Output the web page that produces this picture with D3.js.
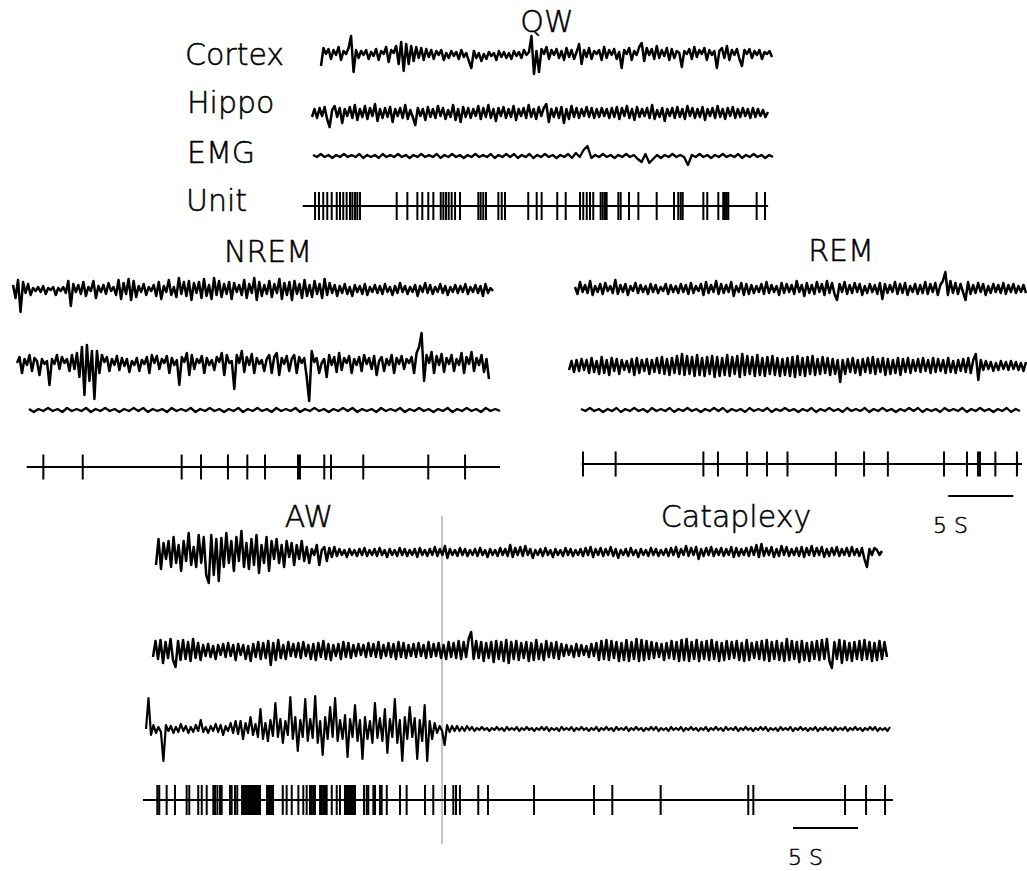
<!DOCTYPE html>
<html>
<head>
<meta charset="utf-8">
<script src="https://cdn.jsdelivr.net/npm/d3@7/dist/d3.min.js"></script>
<style>
  body { margin: 0; background: #fff; }
  .label { font-family: "DejaVu Sans", sans-serif; font-weight: 200; fill: #000; stroke: #000; stroke-width: 0.5; }
  .trace { fill: none; stroke: #000; stroke-linejoin: round; }
</style>
</head>
<body>
<div class="svg-container"></div>
<script>

// ---- data: traces (arbitrary units, + is up), spike times (s) ----
var qwCortex = [-10, 8, 2, 7, -3, 6, 1, 9, -4, 5, 2, 8, 20, -16, 6, -2, 5, 1, 6, -3,
  4, 0, 7, -4, 5, 2, 9, -6, 6, 3, 10, -8, 14, -15, 12, -8, 10, -5, 9, -2,
  8, -4, 7, -1, 6, -3, 5, 1, 6, -4, 3, -2, 5, 0, 4, -3, 6, -1, 3, -5,
  -12, 5, -2, 3, -5, 2, -3, 4, 0, 3, -4, 5, -1, 4, -2, 3, -3, 5, 0, 4,
  -2, 6, 1, 4, 20, -18, 5, -16, 7, 2, 9, -3, 6, 1, 7, -2, 5, -4, 8, -1,
  6, -3, 4, 12, -8, 6, -1, 8, -3, 5, 2, 6, -4, 9, -2, 6, 1, 7, -3, 4,
  -12, 6, 2, 8, -4, 5, 1, 9, 13, -5, 8, 1, 7, -3, 10, -2, 6, 0, 8, -4,
  7, -2, 5, 3, -11, 5, 2, 7, -3, 9, -1, 6, 2, 8, -4, 6, 1, 5, -12, 5,
  8, -2, 10, -4, 6, 1, 7, -3, -10, 6, 2, 7, -2, 5, 1, 6, -3, 4, 2, 5, -1];
var qwHippo = [-3, 5, -4, 6, -2, 7, -5, -13, 4, 8, -3, 6, -9, 5, -2, 7, -4, 9, -6, 5,
  -3, 8, -5, 6, -2, 10, -7, 5, -4, 6, -3, 7, -8, 5, -2, 6, -4, 9, -5, 4,
  -3, -11, 6, -2, 5, -6, 7, -3, 5, -4, 8, -2, 6, -5, 4, -3, 9, -6, 5, -8,
  7, -3, 6, -4, 5, -2, 8, -5, 6, -3, 9, -4, 5, -7, 6, -2, 7, -4, 5, -3,
  8, -6, 5, -2, 6, -4, 9, -3, 5, -5, 7, -2, 6, 10, -8, 5, -3, 6, -4, 7,
  -9, 5, -5, 8, -3, 6, -4, 5, -2, 7, -3, 6, -4, 5, -3, 6, -2, 5, -4, 6,
  -3, 7, -5, 6, -2, 8, -4, 5, -6, 7, -3, 5, -2, 6, -4, 9, -5, 4, -3, 6,
  -7, 5, -2, 6, -4, 7, -3, 5, -5, 8, -2, 6, -4, 5, -3, 7, -6, 5, -2, 6,
  -4, 8, -3, 5, -5, 6, -2, 7, -4, 5, -3, 6, -2, 5, -4, 6, -3, 5, -2, 4, -3, 2];
var qwEmg = [1, -1, 2, -1, 1, -2, 1, -1, 2, -1, 1, -1, 2, -2, 1, -1, 1, -2, 2, -1,
  1, -1, 2, -1, 1, -2, 1, -1, 2, -1, 1, -1, 2, -2, 1, -1, 2, -1, 1, -2,
  1, -1, 2, -1, 1, -1, 2, -2, 1, -1, 2, -1, 2, -2, 1, -1, 2, -2, 1, -1,
  2, -1, 1, -2, 1, -1, 2, -2, 3, -1, 6, 10, -2, 1, -1, 2, -1, 1, -2, 1,
  -1, 2, -1, 1, -3, -6, 2, -7, -3, 1, -2, 1, -1, 2, -1, 1, -1, -9, 1, -1,
  2, -1, 1, -2, 1, -1, 2, -1, 1, -1, 2, -2, 1, -1, 2, -1, 1, -2, 1, -1];
var qwSpikes = [0.95, 1.25, 1.58, 1.89, 2.23, 2.62, 2.87, 3.12, 3.38, 3.64, 3.82, 4.02, 4.2, 4.41,
  7.23, 8.05, 8.82, 9.2, 9.66, 10.05, 10.62, 10.82, 11.02, 11.23, 11.46, 11.72, 12.1,
  13.51, 13.69, 13.89, 14.1, 15.05, 15.31, 15.56, 17.35, 18.0, 18.38, 19.58, 20.23,
  21.33, 21.58, 21.85, 22.1, 22.35, 22.92, 23.08, 23.25, 23.38, 24.28, 24.46, 25.1, 25.82,
  27.23, 28.56, 28.89, 29.08, 29.23, 30.82, 31.12, 31.97, 32.35, 32.48, 32.62, 32.74, 34.92, 35.56];

var nremCortex = [5, -8, 10, -22, 8, -3, 6, -5, 2, -1, 3, -2, 4, -4, 2, 0, 3, -5, 2, -1,
  3, -3, 9, -16, 6, -2, 5, -4, 8, -6, 3, -1, 9, -8, 4, -2, 5, -4, 7, -1,
  3, -5, 10, -9, 7, -4, 11, -10, 9, -7, 4, -2, 6, -5, 3, -1, 5, -6, 8, -9,
  4, -2, 10, -5, 3, -7, 12, -4, 8, -6, 9, -10, 7, -3, 8, -8, 11, -6, 5, -9,
  12, -5, 9, -7, 6, -4, 8, -9, 7, -2, 5, -5, 10, -8, 6, -3, 12, -10, 8, -6,
  5, -4, 9, -7, 6, -3, 11, -9, 7, -5, 8, -10, 9, -4, 6, -8, 10, -6, 5, -7,
  9, -4, 6, -8, 11, -5, 7, -3, 5, -6, 4, -3, 6, -4, 3, -6, 5, -2, 4, -4,
  6, -5, 3, -2, 5, -3, 4, -4, 6, -2, 3, -5, 4, -3, 7, -2, 4, -4, 3, -2,
  5, -6, 4, -2, 7, -3, 5, -4, 3, -2, 6, -3, 4, -5, 3, -2, 5, -3, 4, -2,
  6, -4, 3, -2, 5, -3, 4, -6, 6, -3, 2, -1];
var nremHippo = [4, 10, -6, 8, 2, 12, -4, 9, 6, -8, 8, 3, 6, -18, 8, 3, 12, -2, 10, 4,
  8, -4, 12, -2, 14, -10, 20, -28, 22, -14, 16, -32, 16, -6, 12, 5, 10, -4, 8, 2,
  11, -3, 9, 1, 8, -5, 6, 2, 9, -4, 7, 3, 10, -6, 12, 4, 11, -2, 8, 4,
  11, -6, 9, 2, 7, -18, 10, 5, 14, -8, 12, -2, 8, 4, 11, -6, 9, 2, 7, -3,
  10, 5, 14, -8, 12, 4, 6, -22, 12, 4, 16, -5, 10, 2, 13, -6, 9, 3, 7, -4,
  8, 12, -6, 10, 14, -8, 9, 3, 11, -4, 8, 12, -6, 10, 4, 9, -10, -34, 16, 5,
  9, -6, 4, 8, -10, 12, 2, 10, -5, 14, -3, 9, 4, 11, -6, 8, 2, 10, -4, 12,
  3, 9, -2, 11, -8, 6, 10, -4, 8, 2, 12, -6, 9, 3, 11, -2, 8, 4, 10, -6,
  14, 20, 34, -14, 12, 4, 15, -6, 11, 2, 13, -5, 9, 3, 12, -4, 8, 2, 14, -6,
  10, 3, 15, -4, 9, 2, 12, -5, 8, -12];
var nremEmg = [1, -2, 1, -1, 2, -1, 1, -2, 2, -1, 1, -1, 2, -2, 1, -1, 2, -1, 1, -2,
  1, -1, 2, -1, 2, -2, 1, -1, 1, -2, 2, -1, 1, -1, 2, -2, 1, -1, 2, -1,
  1, -2, 1, -1, 2, -2, 1, -1, 2, -1, 1, -2, 2, -1, 1, -1, 2, -2, 1, -1,
  2, -1, 1, -2, 1, -1, 2, -1, 2, -2, 1, -1, 1, -2, 2, -1, 1, -1, 2, -2,
  1, -1, 2, -1, 1, -2, 1, -1, 2, -2, 1, -1, 2, -1, 1, -2, 2, -1, 1, -1];
var nremSpikes = [1.28, 4.31, 11.92, 13.41, 15.48, 16.97, 18.33, 20.87, 21.02, 22.89, 23.41, 25.89, 30.89, 33.72];

var remCortex = [3, -4, 8, -2, 5, -3, 9, -5, 4, -2, 6, -4, 7, -1, 4, -3, 10, -4, 5, -2,
  6, -5, 4, -1, 7, -3, 5, -2, 4, -4, 6, -2, 5, -3, 3, -1, 6, -4, 5, -2,
  4, -3, 6, -2, 5, -4, 7, -3, 4, -1, 6, -5, 8, -3, 5, -2, 9, -4, 6, -3,
  5, -2, 8, -6, 4, -2, 7, -5, 6, -4, 5, -3, 4, -2, 6, -4, 8, -3, 5, -2,
  4, -5, 7, -3, 6, -2, 5, -4, 9, -2, 5, -6, 7, -3, 5, -4, 8, -2, 6, -5,
  9, -3, 7, -4, -10, 6, -2, 8, -4, 5, -3, 7, -2, 6, -5, 4, -3, 6, -2, 5,
  -4, 7, -9, 6, -3, 5, -2, 8, -4, 6, -3, 7, -5, 4, -2, 6, -4, 5, -3, 8,
  -4, 6, -2, 7, -5, 5, 9, 18, -5, 9, -3, 7, -4, 6, -2, -10, 8, -4, 5, -3,
  7, -2, 6, -5, 4, -3, 6, -2, 5, -3, 7, -4, 5, -2, 6, -3, 4, -2, 5, -3];
var remHippo = [-4, 5, -6, 6, -5, 7, -4, 6, -7, 8, -6, 5, -8, 9, -7, 6, -9, 8, -5, 7,
  -8, 6, -4, 5, -6, 7, -9, 8, -7, 6, -5, 7, -8, 6, -6, 8, -7, 9, -8, 7,
  -9, 8, -7, 10, -8, 12, -9, 10, -8, 9, -10, 11, -9, 8, -10, 9, -8, 10, -11, 9,
  -10, 8, -9, 11, -10, 9, -8, 10, -11, 12, -9, 10, -8, 9, -10, 11, -9, 8, -10, 9,
  -8, 10, -9, 8, -10, 7, -9, 8, -10, 9, -11, 10, -9, 8, -10, 9, -8, 10, -9, 7,
  -8, 9, -7, 8, -9, 7, -8, 6, -16, 6, -8, 7, -6, 8, -7, 6, -9, 7, -6, 8,
  -7, 9, -8, 7, -6, 8, -9, 7, -8, 6, -7, 8, -9, 7, -6, 8, -7, 6, -5, 7,
  -6, 8, -5, 6, -7, 8, -6, 7, -5, 6, -7, 8, -6, 5, -7, 6, -5, 7, -6, 8,
  -7, 6, 12, -14, 6, -4, 5, -3, 4, -5, 3, -4, 5, -3, 4, -4, 5, -3, 4, -4, 3, -5, 4];
var remEmg = [1, -1, 2, -1, 1, -2, 1, -1, 2, -2, 1, -1, 2, -1, 1, -2, 2, -1, 1, -1,
  2, -2, 1, -1, 2, -1, 1, -2, 1, -1, 2, -1, 2, -2, 1, -1, 1, -2, 2, -1,
  1, -1, 2, -2, 1, -1, 2, -1, 1, -2, 1, -1, 2, -2, 1, -1, 2, -1, 1, -2,
  2, -1, 1, -1, 2, -2, 1, -1, 2, -1, 1, -2, 1, -1, 2, -1, 2, -2, 1, -1,
  1, -2, 2, -1, 1, -1, 2, -2, 1, -1, 2, -1, 1, -2, 1, -1, 2, -2, 1, -1];
var remSpikes = [0.1, 2.61, 9.36, 10.48, 12.72, 14.25, 15.83, 19.55, 21.72, 23.55, 27.87, 29.64, 30.48, 30.64, 31.82, 33.48];

var awCortex = [-12, 14, -16, 10, -6, 12, -14, 16, -10, 8, -18, 12, -8, 20, -12, 6, -14, 18, -10, 16,
  -22, -30, 18, -22, 14, -28, 15, -14, 20, -10, 12, -18, 16, -8, 22, -14, 10, -16, 14, -12,
  18, -20, 8, -10, 16, -18, 12, -6, 14, -10, 8, -14, 12, -4, 10, -12, 8, -6, 12, -8,
  6, -10, 4, -2, 8, -12, 3, 6, -8, 5, -4, 6,
  -3, 4, -2, 3, -4, 4, -2, 3, -3, 4, -2, 5, -3, 3, -2, 4, -3, 5, -2, 3,
  -4, 4, -2, 3, -3, 5, -2, 4, -3, 3, -2, 4, -4, 5, -2, 3, -3, 4, -2, 6,
  -3, 4, -2, 7, -5, 4, -2, 3, -3, 5, -2, 4, -3, 3, -2, 4, -3, 5, -2, 3,
  -4, 4, -2, 3, -3, 5, -2, 4, -3, 8, -4, 5, -2, 6, -3, 7, -2, 4, -5, 3,
  -2, 4, -3, 5, -2, 3, -4, 4, -2, 3, -3, 5, -2, 4, -3, 3, -2, 4, -3, 5,
  -2, 6, -4, 4, -2, 5, -3, 4, -2, 6, -3, 4, -5, 3, -2, 4, -3, 5, -2, 3,
  -4, 4, -2, 3, -3, 5, -2, 4, -3, 3, -2, 4, -3, 5, -2, 6, -4, 4, -2, 7,
  -3, 5, -2, 6, -6, 4, -3, 5, -2, 6, -3, 4, -2, 5, -3, 4, -2, 6, -4, 5,
  -3, 4, -2, 5, -3, 6, -2, 8, -4, 9, -3, 5, -2, 6, -4, 4, -3, 7, -2, 6,
  -3, 4, -2, 5, -3, 6, -4, 5, -2, 7, -3, 5, -2, 6, -4, 4, -3, 5, -2, 6,
  -3, 4, -2, 5, -3, 6, -2, 4, -3, 5, -6, -14, 4, -2, 5, 3, -2, 2];
var awHippo = [-6, 10, -8, 11, -12, 9, -7, 12, -9, -16, 10, -9, 11, -8, 9, -10, 12, -7, 8, -9,
  6, -5, 7, -6, 5, -8, 6, -4, 7, -6, 8, -5, 6, -9, 7, -4, 6, -8, 5, -10,
  7, -6, 9, -8, 8, -7, 10, -14, 8, -9, 11, -7, 6, -8, 9, -5, 7, -6, 8, -7,
  9, -5, 6, -8, 7, -9, 8, -6, 10, -8, 7, -9, 6, -5, 7, -8, 9, -6, 8, -7,
  6, -5, 7, -4, 6, -6, 8, -5, 7, -6, 9, -7, 6, -5, 8, -6, 7, -8, 9, -6,
  8, -7, 6, -5, 7, -6, 8, -5, 6, -7, 9, -6, 7, -5, 8, -7, 6, -8, 9, -6,
  8, -7, 10, -8, 9, -6, 12, 19, -8, 10, -7, 9, -10, 8, -7, 9, -11, 10, -8, 9,
  -10, 11, -12, 9, -8, 10, -9, 8, -7, 9, -10, 8, -9, 11, -8, 7, -9, 10, -6, 8,
  -7, 9, -8, 7, -5, 6, -4, 5, -6, 7, -5, 6, -4, 5, -6, 7, -5, 8, -9, 10,
  -8, 11, -9, 10, -7, 9, -10, 8, -9, 11, -10, 9, -8, 12, -10, 11, -9, 10, -8, 9,
  -7, 8, -6, 7, -9, 8, -7, 10, -8, 9, -10, 11, -9, 12, -10, 9, -8, 11, -10, 9,
  -8, 10, -9, 11, -8, 9, -10, 8, -9, 10, -8, 9, -7, 10, -9, 8, -10, 11, -9, 8,
  -7, 9, -8, 10, -9, 11, -10, 9, -8, 10, -9, 8, -10, 12, -9, 10, -8, 9, -11, 10,
  -9, 8, -10, 9, -8, 10, -9, 11, -8, 12, -10, -17, 9, -8, 11, -12, 10, -9, 8, -10,
  9, -8, 10, -9, 11, -8, 9, -10, 8, -9, 10, -8, 9, -6];
var awEmg = [0, 31, -6, 4, -4, 2, -3, -32, 4, -2, 3, -4, 2, -3, 5, -2, 3, -4, 2, -3,
  4, -2, 9, -3, 2, -4, 3, -2, 5, -3, 4, -6, 3, -2, 6, -4, 8, -5,
  8, -10, 6, -4, 12, -6, 5, -8, 20, -10, 6, -12, 9, -7, 26, -8, 10, -14, 8, -6,
  32, -10, 12, -22, 9, -8, 30, -12, 10, -9, 33, -14, 8, -26, 12, -10, 22, -8, 31, -12,
  9, -10, 14, -28, 10, -8, 24, -12, 9, -30, 12, -10, 8, -14, 26, -9, 11, -12, 20, -24,
  10, -8, 30, -14, 9, -32, 12, -10, 22, -8, 11, -30, 9, -12, 24, -32, 8, -10,
  6, -4, 3, -2, -16,
  4, -3, 3, -2, 3, -2, 2, -2, 3, -1, 2, -2, 1, -1, 2, -1, 1, -2, 1, -1,
  2, -1, 1, -2, 2, -1, 1, -1, 2, -2, 1, -1, 2, -1, 1, -2, 1, -1, 2, -1,
  2, -2, 1, -1, 1, -2, 2, -1, 1, -1, 2, -2, 1, -1, 2, -1, 1, -2, 1, -1,
  2, -2, 1, -1, 2, -1, 1, -2, 2, -1, 1, -1, 2, -2, 1, -1, 2, -1, 1, -2,
  1, -1, 2, -1, 2, -2, 1, -1, 1, -2, 2, -1, 1, -1, 2, -2, 1, -1, 2, -1,
  1, -2, 1, -1, 2, -2, 1, -1, 2, -1, 1, -2, 2, -1, 1, -1, 2, -2, 1, -1,
  2, -1, 1, -2, 1, -1, 2, -1, 2, -2, 1, -1, 1, -2, 2, -1, 1, -1, 2, -2,
  1, -1, 2, -1, 1, -2, 1, -1, 2, -2, 1, -1, 2, -1, 1, -2, 2, -1, 1, -1,
  2, -2, 1, -1, 2, -1, 1, -2, 1, -1, 2, -1, 2, -2, 1, -1, 1, -2, 2];
var awSpikes = [1.1, 1.25, 1.82, 2.46, 3.36, 3.56, 4.25, 4.52, 4.9, 5.41, 5.54, 5.72, 5.92, 6.05,
  6.69, 6.82, 7.08, 7.25,
  7.62, 7.73, 7.85, 7.96, 8.08, 8.19, 8.31, 8.42, 8.54, 8.65, 8.77, 8.88, 9.0,
  9.54, 9.65, 9.77, 9.88, 10.0,
  10.75, 11.05, 11.44, 11.95, 12.33, 12.59, 12.85, 12.98, 13.1, 13.23, 13.62, 13.75, 13.87,
  14.0, 14.13, 14.52, 14.9, 15.15,
  15.54, 15.65, 15.77, 15.88, 16.0, 16.12, 16.23, 16.31,
  17.0, 17.21, 17.33, 17.72, 17.85, 18.23, 18.36, 18.75, 19.77, 20.28, 21.69, 22.33,
  23.23, 23.87, 24.08, 24.38, 25.79, 26.54, 30.08, 34.69, 36.1, 39.82, 46.56, 46.95,
  54.0, 55.62, 57.08];

// record lengths (s) and scale bar
var qwDuration = 35.8, nremDuration = 36.4, remDuration = 33.87, awDuration = 57.69;
var remBar = [28.2, 5], awBar = [50, 5];  // start, length (s)

// ---- layout ----
var fullWidth = 1027, fullHeight = 871;
var pxPerSec = 13;

var svg = d3.select(".svg-container")
    .append("svg")
    .attr("width", fullWidth)
    .attr("height", fullHeight);

// continuous traces: index -> x between x0 and x1, value -> y around yc
function draw_trace(values, x0, x1, yc, width) {
    var x = d3.scaleLinear().domain([0, values.length - 1]).range([x0, x1]);
    var y = d3.scaleLinear().domain([-50, 50]).range([yc + 50, yc - 50]);
    var line = d3.line().x((d, i) => x(i)).y(d => y(d));
    svg.append("path")
	.datum(values)
	.attr("class", "trace")
	.attr("stroke-width", width)
	.attr("d", line);
}

// unit raster: baseline plus a tick per spike
function draw_unit(spikes, duration, x0, yc, half) {
    var x = d3.scaleLinear().domain([0, duration]).range([x0, x0 + duration * pxPerSec]);
    var g = svg.append("g");
    g.append("line")
	.attr("x1", x(0)).attr("x2", x(duration))
	.attr("y1", yc).attr("y2", yc)
	.attr("stroke", "#000").attr("stroke-width", 2);
    g.selectAll("line.spike")
	.data(spikes)
	.enter()
	.append("line")
	.attr("class", "spike")
	.attr("x1", d => x(d)).attr("x2", d => x(d))
	.attr("y1", yc - half).attr("y2", yc + half)
	.attr("stroke", "#000").attr("stroke-width", 2);
    return x;
}

function draw_bar(x, bar, yc, labelX, labelY) {
    svg.append("line")
	.attr("x1", x(bar[0])).attr("x2", x(bar[0] + bar[1]))
	.attr("y1", yc).attr("y2", yc)
	.attr("stroke", "#000").attr("stroke-width", 2);
    svg.append("text")
	.attr("class", "label")
	.attr("x", labelX).attr("y", labelY)
	.attr("font-size", 22)
	.text(bar[1] + " S");
}

function label(txt, x, y, anchor) {
    svg.append("text")
	.attr("class", "label")
	.attr("x", x).attr("y", y)
	.attr("font-size", 30)
	.attr("text-anchor", anchor || "start")
	.text(txt);
}

// QW
label("QW", 547, 32, "middle");
label("Cortex", 185, 65);
label("Hippo", 187, 113);
label("EMG", 187, 163);
label("Unit", 186, 211);
draw_trace(qwCortex, 321, 772, 56, 2.5);
draw_trace(qwHippo, 312, 768, 114, 2.5);
draw_trace(qwEmg, 313, 773, 156, 2.3);
draw_unit(qwSpikes, qwDuration, 302.7, 206, 14);

// NREM
label("NREM", 268, 262, "middle");
draw_trace(nremCortex, 13, 493, 290, 2.5);
draw_trace(nremHippo, 17, 489, 367, 2.5);
draw_trace(nremEmg, 29, 500, 410, 2.3);
draw_unit(nremSpikes, nremDuration, 26.7, 467, 12.5);

// REM
label("REM", 841, 261, "middle");
draw_trace(remCortex, 575, 1026, 290, 2.5);
draw_trace(remHippo, 569, 1026, 366, 2.5);
draw_trace(remEmg, 581, 1020, 410, 2.3);
var remX = draw_unit(remSpikes, remDuration, 581.7, 464, 12.5);
draw_bar(remX, remBar, 496, 933, 533);

// AW / Cataplexy
svg.append("line")
    .attr("x1", 442).attr("x2", 442)
    .attr("y1", 516).attr("y2", 844)
    .attr("stroke", "#888").attr("stroke-width", 1);
label("AW", 309, 527, "middle");
label("Cataplexy", 736, 527, "middle");
draw_trace(awCortex, 156, 882, 553, 2.5);
draw_trace(awHippo, 153, 887, 651, 2.5);
draw_trace(awEmg, 146, 890, 729, 2.2);
var awX = draw_unit(awSpikes, awDuration, 143, 800, 15);
draw_bar(awX, awBar, 828, 788, 865);

</script>
</body>
</html>
